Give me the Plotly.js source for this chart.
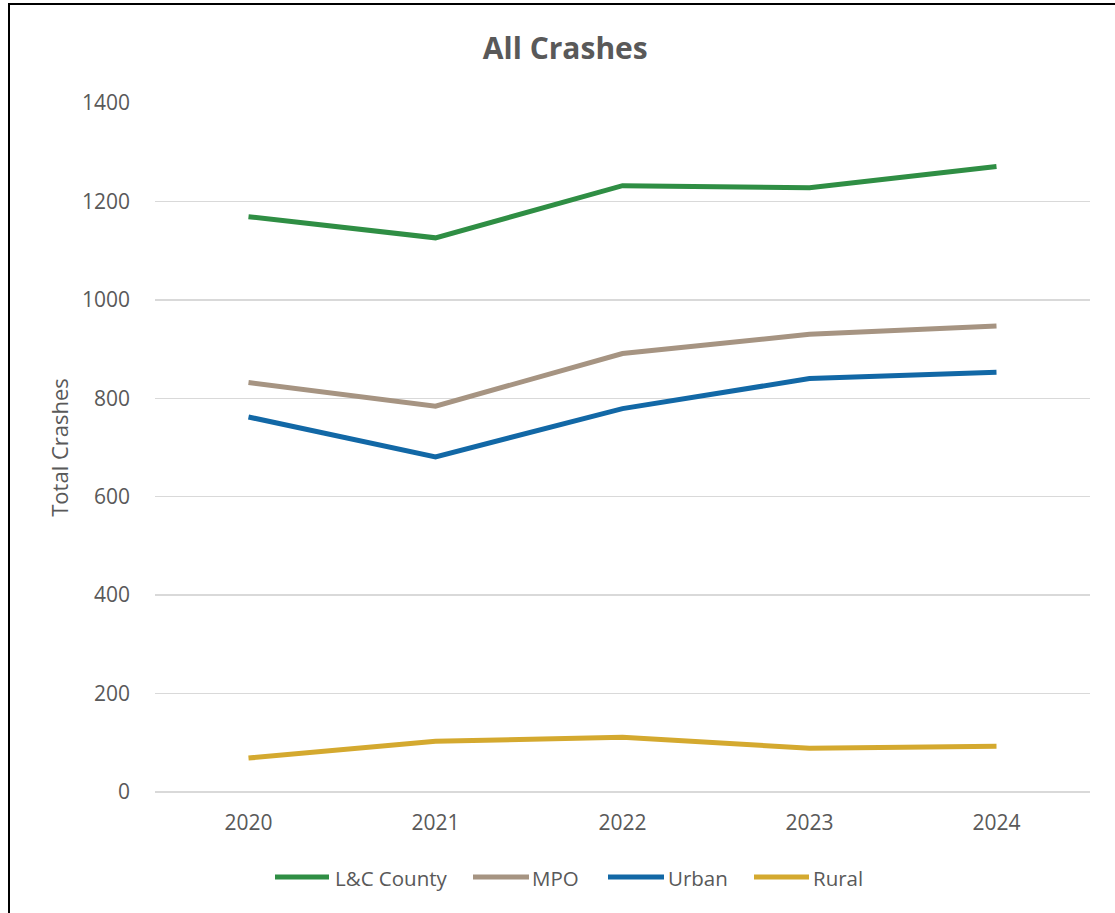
<!DOCTYPE html>
<html>
<head>
<meta charset="utf-8">
<script src="https://cdn.plot.ly/plotly-3.0.1.min.js"></script>
<style>
  html, body { margin: 0; padding: 0; background: #fff; }
  #wrap { position: relative; width: 1115px; height: 913px; overflow: hidden; }
  #chart { position: absolute; left: 0; top: 0; width: 1115px; height: 913px; }
  #frame { position: absolute; left: 8px; top: 3px; width: 1200px; height: 1000px;
           border-left: 2px solid #000; border-top: 2px solid #000; pointer-events: none; }
</style>
</head>
<body>
<div id="wrap">
  <div id="chart"></div>
  <div id="frame"></div>
</div>
<script>
const years = ['2020', '2021', '2022', '2023', '2024'];
const seriesNames = ['L&C County', 'MPO', 'Urban', 'Rural'];
const lcCounty = [1169, 1126, 1232, 1228, 1271];
const mpo = [832, 784, 891, 930, 947];
const urban = [762, 681, 779, 840, 853];
const rural = [69, 103, 111, 89, 93];
const colors = ['#2F8E44', '#A69482', '#1268A6', '#D4A92F'];
const yTicks = [0, 200, 400, 600, 800, 1000, 1200, 1400];

const values = [lcCounty, mpo, urban, rural];
const traces = values.map((v, i) => ({
  type: 'scatter',
  mode: 'lines',
  x: years,
  y: v,
  name: seriesNames[i],
  line: { color: colors[i], width: 5 },
  hoverinfo: 'x+y+name'
}));

const textColor = '#595959';
const font = 'Open Sans, Lato, sans-serif';

// Plot area geometry (pixels) used to place the custom legend
const plotL = 155, plotR = 1090, plotT = 103, plotB = 792;
const px2x = p => (p - plotL) / (plotR - plotL);
const px2y = p => (plotB - p) / (plotB - plotT);

// Legend entry positions (pixels): line start, line end, text start
const legendLine = [[275, 329, 333], [473, 529, 530], [608, 664, 666], [754, 809, 811]];
const legendY = 877;

const shapes = [];
const annotations = [];
seriesNames.forEach((name, i) => {
  const [x0, x1, xt] = legendLine[i];
  shapes.push({
    type: 'line', xref: 'paper', yref: 'paper',
    x0: px2x(x0), x1: px2x(x1), y0: px2y(legendY), y1: px2y(legendY),
    line: { color: colors[i], width: 5 }
  });
  annotations.push({
    xref: 'paper', yref: 'paper',
    x: px2x(xt), y: px2y(legendY + 1),
    xanchor: 'left', yanchor: 'middle',
    text: name, showarrow: false,
    font: { family: font, size: 20.5, color: textColor }
  });
});

const layout = {
  width: 1115,
  height: 913,
  paper_bgcolor: '#ffffff',
  plot_bgcolor: '#ffffff',
  margin: { l: plotL, r: 1115 - plotR, t: plotT, b: 913 - plotB },
  font: { family: font, color: textColor, size: 21 },
  title: {
    text: '<b>All Crashes</b>',
    font: { family: font, size: 30, color: textColor },
    x: 0.507, xanchor: 'center',
    y: 0.947, yanchor: 'middle'
  },
  xaxis: {
    type: 'category',
    range: [-0.5, 4.5],
    showgrid: false,
    showline: false,
    zeroline: false,
    ticks: '',
    ticklabelstandoff: 16,
    tickfont: { family: font, size: 21, color: textColor },
    fixedrange: true
  },
  yaxis: {
    range: [0, 1400],
    tickvals: yTicks,
    ticktext: yTicks.map(String),
    showgrid: true,
    gridcolor: '#D9D9D9',
    gridwidth: 1.5,
    zeroline: true,
    zerolinecolor: '#D9D9D9',
    zerolinewidth: 1.5,
    showline: false,
    ticks: '',
    ticklabelstandoff: 24,
    tickfont: { family: font, size: 21, color: textColor },
    title: {
      text: 'Total Crashes',
      font: { family: font, size: 22, color: textColor },
      standoff: 7
    },
    fixedrange: true
  },
  showlegend: false,
  shapes: shapes,
  annotations: annotations
};

Plotly.newPlot('chart', traces, layout, { displayModeBar: false, staticPlot: true });
</script>
</body>
</html>
